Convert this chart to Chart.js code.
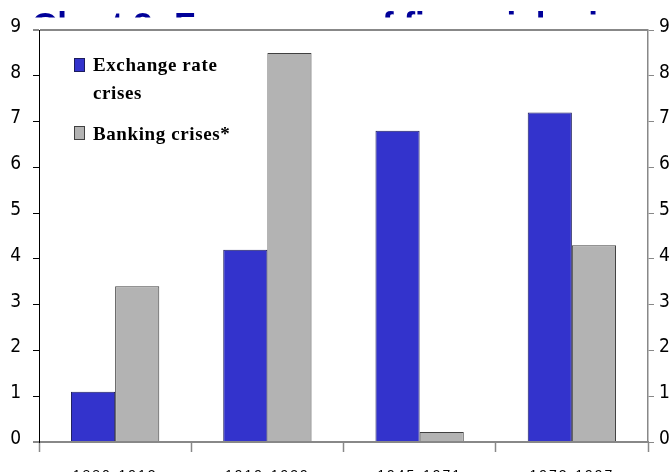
<!DOCTYPE html>
<html>
<head>
<meta charset="utf-8">
<script src="https://cdn.jsdelivr.net/npm/chart.js@4/dist/chart.umd.min.js"></script>
<style>
  html, body { margin: 0; padding: 0; background: #fff; }
  #wrap { width: 671px; height: 472px; }
</style>
</head>
<body>
<div id="wrap"><canvas id="chart"></canvas></div>
<script>
const periods = ['1880-1913', '1919-1939', '1945-1971', '1973-1997'];
const exchangeRateCrises = [1.1, 4.2, 6.8, 7.2];
const bankingCrises = [3.4, 8.5, 0.22, 4.3];
const seriesNames = [['Exchange rate', 'crises'], ['Banking crises*']];
const yTicks = [0, 1, 2, 3, 4, 5, 6, 7, 8, 9];
const chartTitle = 'Chart 2: Frequency of financial crises';

const axisFont = { family: "'Liberation Sans Narrow', 'DejaVu Sans Condensed', 'Liberation Sans', Arial, sans-serif", size: 19 };

// title sits behind the plot, only its top edge shows
const titleBehind = {
  id: 'titleBehind',
  beforeDraw(chart) {
    const ctx = chart.ctx;
    ctx.save();
    ctx.fillStyle = '#fff';
    ctx.fillRect(0, 0, chart.width, chart.height);
    ctx.fillStyle = '#000099';
    ctx.font = "bold 35px 'Liberation Sans', Arial, sans-serif";
    ctx.textBaseline = 'alphabetic';
    ctx.fillText(chartTitle, 32, 37);
    ctx.fillStyle = '#fff';
    ctx.fillRect(0, 17.5, chart.width, chart.height);
    ctx.restore();
    ctx.letterSpacing = '2px';
  }
};

// legend drawn inside the plot, with the wrapped label
const boxLegend = {
  id: 'boxLegend',
  afterDraw(chart) {
    const ctx = chart.ctx;
    const rows = [
      { box: 58, lines: [71, 99] },
      { box: 126, lines: [140] }
    ];
    ctx.save();
    ctx.letterSpacing = '0.6px';
    ctx.font = "bold 19px 'Liberation Serif', 'Times New Roman', serif";
    ctx.textBaseline = 'alphabetic';
    chart.data.datasets.forEach((ds, i) => {
      const r = rows[i];
      ctx.fillStyle = ds.backgroundColor;
      ctx.fillRect(74.5, r.box + 0.5, 10, 13);
      ctx.strokeStyle = ds.borderColor;
      ctx.lineWidth = 1;
      ctx.strokeRect(74.5, r.box + 0.5, 10, 13);
      ctx.fillStyle = '#000';
      seriesNames[i].forEach((t, j) => ctx.fillText(t, 93, r.lines[j]));
    });
    ctx.restore();
  }
};

new Chart(document.getElementById('chart'), {
  type: 'bar',
  data: {
    labels: periods,
    datasets: [
      {
        label: seriesNames[0].join(' '),
        data: exchangeRateCrises,
        backgroundColor: '#3333CC',
        borderColor: '#1c1c5c',
        borderWidth: 1
      },
      {
        label: seriesNames[1].join(' '),
        data: bankingCrises,
        backgroundColor: '#B3B3B3',
        borderColor: '#404040',
        borderWidth: 1
      }
    ]
  },
  options: {
    responsive: true,
    maintainAspectRatio: false,
    animation: false,
    devicePixelRatio: 1,
    layout: { padding: { top: 30, left: 0, right: 0, bottom: 0 } },
    datasets: { bar: { categoryPercentage: 0.58, barPercentage: 1 } },
    plugins: {
      legend: { display: false },
      title: { display: false },
      tooltip: { enabled: false }
    },
    scales: {
      x: {
        afterFit: s => { s.height = 30; },
        grid: {
          offset: true,
          drawOnChartArea: false,
          tickLength: 10,
          tickColor: '#888',
          tickWidth: 1.5
        },
        border: { display: true, color: '#888', width: 2 },
        ticks: {
          color: '#000',
          padding: 16,
          font: { family: "'Liberation Sans', Arial, sans-serif", size: 14 }
        }
      },
      y: {
        position: 'left',
        min: 0,
        max: 9,
        afterFit: s => { s.width = 39; },
        afterBuildTicks: s => { s.ticks = yTicks.map(v => ({ value: v })); },
        grid: {
          drawOnChartArea: true,
          color: c => (c.tick && (c.tick.value === 0 || c.tick.value === 9)) ? '#888' : 'rgba(0,0,0,0)',
          lineWidth: c => (c.tick && (c.tick.value === 0 || c.tick.value === 9)) ? 2 : 1,
          tickColor: c => (c.tick && (c.tick.value === 0 || c.tick.value === 9)) ? '#888' : '#000',
          tickLength: 6
        },
        border: { display: true, color: '#000', width: 1 },
        ticks: { color: '#000', padding: 10, labelOffset: -3, font: axisFont }
      },
      y2: {
        position: 'right',
        min: 0,
        max: 9,
        afterFit: s => { s.width = 23; },
        afterBuildTicks: s => { s.ticks = yTicks.map(v => ({ value: v })); },
        grid: { drawOnChartArea: false, tickColor: '#888', tickLength: 6, tickWidth: 1 },
        border: { display: true, color: '#888', width: 1.5 },
        ticks: { color: '#000', padding: 5, labelOffset: -3, font: axisFont }
      }
    }
  },
  plugins: [titleBehind, boxLegend]
});
</script>
</body>
</html>
